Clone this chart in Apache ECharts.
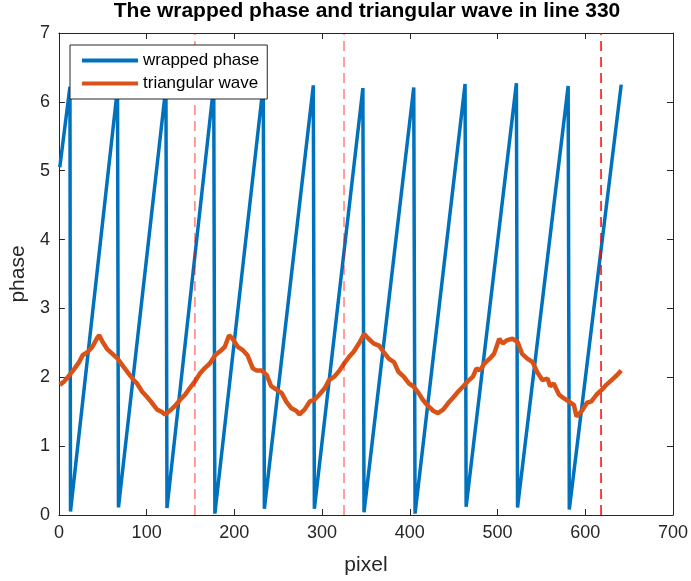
<!DOCTYPE html>
<html>
<head>
<meta charset="utf-8">
<script src="https://cdn.jsdelivr.net/npm/echarts@6/dist/echarts.min.js"></script>
<style>
    html, body { margin: 0; padding: 0; background: #fff; }
    #phase330 { width: 691px; height: 581px; }
</style>
</head>
<body>
<div id="phase330"></div>
<script>
// wrapped phase: corners of the saw-tooth (peak, then drop)
var wrapX = [1, 12.6, 13.2, 66.8, 67.9, 122, 123.2, 176.5, 177.8, 233, 234.2, 290, 291.2,
    346.5, 347.8, 404.5, 406, 463, 464.2, 521.5, 522.8, 580.5, 581.8, 641];
var wrapY = [5.05, 6.22, 0.05, 6.2, 0.11, 6.22, 0.1, 6.24, 0.02, 6.25, 0.09, 6.24, 0.09,
    6.2, 0.04, 6.21, 0.02, 6.26, 0.12, 6.27, 0.11, 6.23, 0.08, 6.25];

var triX = [1, 6, 12, 18, 23, 27, 33, 38, 44, 46, 50, 55, 61, 67, 72, 78, 84, 89, 95, 100,
    106, 112, 117, 121, 127, 132, 138, 144, 149, 155, 161, 166, 172, 178, 183, 189, 194, 198,
    204, 210, 215, 221, 225, 231, 237, 242, 248, 254, 259, 265, 271, 274, 280, 286, 291, 297,
    303, 308, 314, 320, 325, 331, 336, 342, 348, 353, 359, 365, 370, 376, 382, 387, 393, 399,
    404, 410, 415, 421, 427, 432, 438, 444, 449, 455, 461, 466, 472, 476, 480, 485, 491, 496,
    502, 506, 511, 517, 523, 528, 534, 540, 545, 551, 557, 560, 564, 570, 575, 581, 587, 590,
    596, 602, 607, 613, 619, 624, 630, 636, 641];
var triY = [1.89, 1.94, 2.03, 2.13, 2.22, 2.32, 2.37, 2.44, 2.58, 2.61, 2.51, 2.41, 2.34, 2.27,
    2.18, 2.08, 1.98, 1.91, 1.79, 1.72, 1.63, 1.53, 1.50, 1.46, 1.52, 1.58, 1.67, 1.75, 1.84,
    1.94, 2.06, 2.13, 2.20, 2.32, 2.37, 2.44, 2.61, 2.56, 2.44, 2.39, 2.32, 2.13, 2.10, 2.10,
    2.03, 1.87, 1.82, 1.77, 1.65, 1.55, 1.51, 1.46, 1.53, 1.65, 1.67, 1.75, 1.84, 1.96, 2.01,
    2.10, 2.20, 2.30, 2.37, 2.49, 2.63, 2.56, 2.49, 2.46, 2.37, 2.27, 2.22, 2.08, 2.01, 1.91,
    1.87, 1.77, 1.67, 1.58, 1.51, 1.48, 1.53, 1.63, 1.70, 1.79, 1.87, 1.94, 2.01, 2.13, 2.10,
    2.20, 2.27, 2.34, 2.56, 2.49, 2.54, 2.56, 2.51, 2.34, 2.27, 2.22, 2.08, 1.96, 1.98, 1.87,
    1.91, 1.75, 1.70, 1.65, 1.60, 1.43, 1.51, 1.63, 1.65, 1.75, 1.82, 1.89, 1.96, 2.03, 2.10];

// dashed vertical markers
var cutX = [155, 325, 618];

var seriesNames = ['wrapped phase', 'triangular wave'];

function zip(xs, ys) {
    var out = [];
    for (var i = 0; i < xs.length; i++) {
        out.push([xs[i], ys[i]]);
    }
    return out;
}

var dom = document.getElementById("phase330");
var myChart = echarts.init(dom);
var option = null;

var txt = '#262626';
var font = 'Liberation Sans, Arial, Helvetica, sans-serif';

function boxAxis(pos, withLabels, extra) {
    var ax = {
        type: 'value',
        position: pos,
        axisLine: { show: true, onZero: false, lineStyle: { color: txt, width: 1 } },
        axisTick: { show: true, inside: true, length: 6, lineStyle: { color: txt, width: 1 } },
        splitLine: { show: false },
        axisLabel: { show: withLabels, fontSize: 18, color: txt, fontFamily: font, margin: 9 }
    };
    for (var k in extra) ax[k] = extra[k];
    return ax;
}

var series = [
    {
        name: seriesNames[0],
        type: 'line',
        data: zip(wrapX, wrapY),
        symbol: 'none',
        lineStyle: { color: '#0072BD', width: 3.5 },
        itemStyle: { color: '#0072BD' },
        z: 2
    },
    {
        name: seriesNames[1],
        type: 'line',
        data: zip(triX, triY),
        symbol: 'none',
        lineStyle: { color: '#D95319', width: 4.5 },
        itemStyle: { color: '#D95319' },
        z: 3
    }
];

cutX.forEach(function (x, i) {
    series.push({
        type: 'line',
        data: [[x, 0], [x, 7]],
        symbol: 'none',
        silent: true,
        lineStyle: {
            color: i < 2 ? 'rgba(255,0,0,0.5)' : '#ff0000',
            width: 1.5,
            type: [10, 6]
        },
        z: 4
    });
});

option = {
    animation: false,
    backgroundColor: '#fff',
    title: {
        text: 'The wrapped phase and triangular wave in line 330',
        left: 367,
        textAlign: 'center',
        top: 1,
        padding: 0,
        textStyle: { fontSize: 21, fontWeight: 'bold', color: '#000', fontFamily: font }
    },
    legend: {
        data: seriesNames,
        orient: 'vertical',
        left: 70,
        top: 45,
        icon: 'rect',
        itemWidth: 56,
        itemHeight: 4,
        itemGap: 6,
        padding: [7, 8, 7, 12],
        backgroundColor: '#fff',
        borderColor: txt,
        borderWidth: 1,
        z: 10,
        textStyle: { fontSize: 17, color: '#000', fontFamily: font }
    },
    grid: { left: 57, right: 14, top: 33, bottom: 61, containLabel: false },
    xAxis: [
        boxAxis('bottom', true, {
            min: 0, max: 700, interval: 100,
            name: 'pixel', nameLocation: 'middle', nameGap: 40,
            nameTextStyle: { fontSize: 21, color: txt, fontFamily: font }
        }),
        boxAxis('top', false, { min: 0, max: 700, interval: 100 })
    ],
    yAxis: [
        boxAxis('left', true, {
            min: 0, max: 7, interval: 1,
            name: 'phase', nameLocation: 'middle', nameGap: 27,
            nameTextStyle: { fontSize: 21, color: txt, fontFamily: font }
        }),
        boxAxis('right', false, { min: 0, max: 7, interval: 1 })
    ],
    series: series
};

if (option && typeof option === "object") {
    myChart.setOption(option, true);
}
</script>
</body>
</html>
